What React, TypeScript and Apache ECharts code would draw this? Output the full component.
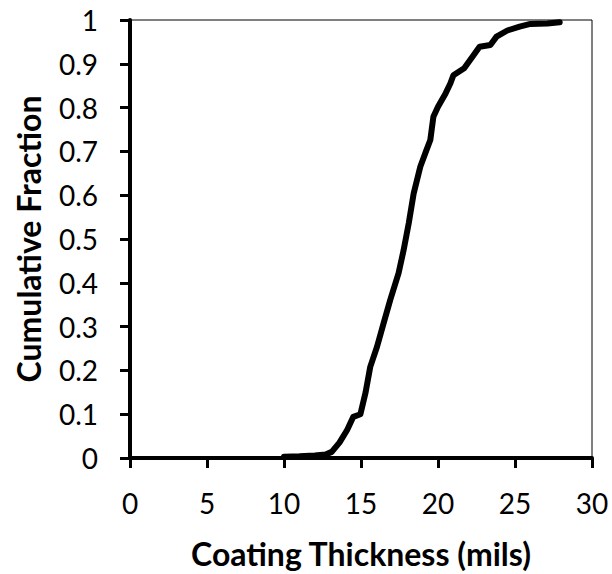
import React, { useEffect, useRef } from "react";
import * as echarts from "echarts";

const thickness = [10, 11, 12, 12.7, 13.1, 13.6, 14.1, 14.5, 14.96, 15.3, 15.6, 16.04, 16.47, 16.9, 17.44, 17.77, 18.1, 18.42, 18.85, 19.25, 19.5, 19.7, 20.0, 20.5, 20.8, 21.0, 21.7, 22.4, 22.7, 23.4, 23.8, 24.5, 25.3, 26.0, 27.1, 27.9];
const fraction = [0.003, 0.004, 0.006, 0.008, 0.014, 0.035, 0.064, 0.094, 0.1, 0.15, 0.208, 0.254, 0.308, 0.361, 0.422, 0.475, 0.536, 0.604, 0.665, 0.703, 0.726, 0.779, 0.802, 0.833, 0.855, 0.874, 0.89, 0.924, 0.939, 0.943, 0.962, 0.976, 0.985, 0.991, 0.992, 0.995];

const xTitle = "Coating Thickness (mils)";
const yTitle = "Cumulative Fraction";

export default function App() {
  const ref = useRef<HTMLDivElement>(null);
  useEffect(() => {
    if (!ref.current) return;
    const chart = echarts.init(ref.current, null, { renderer: "svg" });
    const font = "Lato";
    chart.setOption({
      animation: false,
      backgroundColor: "#fff",
      grid: {
        left: 130,
        right: 20,
        top: 20,
        bottom: 116,
        show: true,
        borderColor: "#000",
        borderWidth: 1,
      },
      xAxis: {
        type: "value",
        min: 0,
        max: 30,
        interval: 5,
        splitLine: { show: false },
        axisLine: { show: true, lineStyle: { color: "#000", width: 4 } },
        axisTick: { show: true, length: 10, inside: false, lineStyle: { color: "#000", width: 3 } },
        axisLabel: { color: "#000", fontSize: 28, fontFamily: font, margin: 31 },
        name: xTitle,
        nameLocation: "middle",
        nameGap: 79,
        nameTextStyle: { color: "#000", fontSize: 32, fontWeight: "bold", fontFamily: font },
      },
      yAxis: {
        type: "value",
        min: 0,
        max: 1,
        interval: 0.1,
        splitLine: { show: false },
        axisLine: { show: true, lineStyle: { color: "#000", width: 4 } },
        axisTick: { show: true, length: 10, inside: false, lineStyle: { color: "#000", width: 3 } },
        axisLabel: {
          color: "#000",
          fontSize: 28,
          fontFamily: font,
          margin: 32,
          formatter: (v: number) => String(Math.round(v * 10) / 10),
        },
        name: yTitle,
        nameLocation: "middle",
        nameGap: 86,
        nameTextStyle: { color: "#000", fontSize: 32, fontWeight: "bold", fontFamily: font },
      },
      series: [
        {
          type: "line",
          data: thickness.map((t, i) => [t, fraction[i]]),
          showSymbol: false,
          lineStyle: { color: "#000", width: 6, join: "round", cap: "round" },
          smooth: false,
        },
      ],
    });
    return () => chart.dispose();
  }, []);
  return (
    <div
      ref={ref}
      style={{ position: "fixed", left: 0, top: 0, width: 612, height: 574 }}
    />
  );
}
